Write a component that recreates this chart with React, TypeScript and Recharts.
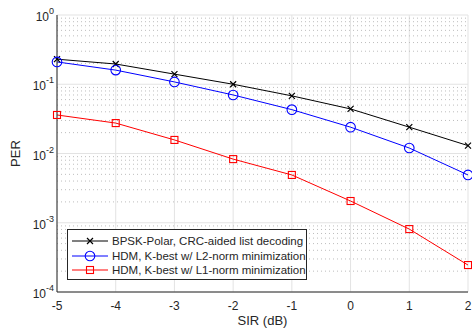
import React from 'react';
import { LineChart, Line, XAxis, YAxis, CartesianGrid, ReferenceLine } from 'recharts';

const sir = [-5, -4, -3, -2, -1, 0, 1, 2];
const perPolar = [0.23, 0.196, 0.14, 0.1, 0.068, 0.044, 0.024, 0.013];
const perL2 = [0.21, 0.16, 0.108, 0.07, 0.043, 0.024, 0.012, 0.0049];
const perL1 = [0.036, 0.0275, 0.0157, 0.0083, 0.0049, 0.00206, 0.00081, 0.000245];

const xTicks = [-5, -4, -3, -2, -1, 0, 1, 2];
const yExponents = [-4, -3, -2, -1, 0];
const yTicks = yExponents.map((e) => Math.pow(10, e));
const yMinor: number[] = [];
yExponents.slice(0, -1).forEach((e) => {
  for (let k = 2; k <= 9; k++) yMinor.push(k * Math.pow(10, e));
});

const legendNames = [
  'BPSK-Polar, CRC-aided list decoding',
  'HDM, K-best w/ L2-norm minimization',
  'HDM, K-best w/ L1-norm minimization',
];
const colors = ['#000000', '#0000ff', '#ff0000'];

const data = sir.map((s, i) => ({ sir: s, polar: perPolar[i], l2: perL2[i], l1: perL1[i] }));

const AXIS = '#262626';
const FONT = '"Liberation Sans", Arial, sans-serif';

const marker = (kind: string, cx: number, cy: number, color: string, key?: string) => {
  if (kind === 'x') {
    return (
      <path key={key} d={`M${cx - 3},${cy - 3}L${cx + 3},${cy + 3}M${cx - 3},${cy + 3}L${cx + 3},${cy - 3}`}
        stroke={color} strokeWidth={1.2} fill="none" />
    );
  }
  if (kind === 'o') {
    return <circle key={key} cx={cx} cy={cy} r={4.8} stroke={color} strokeWidth={1.1} fill="none" />;
  }
  return <rect key={key} x={cx - 3.5} y={cy - 3.5} width={7} height={7} stroke={color} strokeWidth={1.1} fill="none" />;
};
const kinds = ['x', 'o', 's'];

const dotFor = (kind: string, color: string) => (p: any) =>
  marker(kind, p.cx, p.cy, color, `${kind}-${p.index}`);

const YTick = (props: any) => {
  const { x, y, payload } = props;
  const e = Math.round(Math.log10(payload.value));
  return (
    <text x={x - 3} y={y + 6} textAnchor="end" fontSize={12} fill={AXIS}>
      10<tspan dy={-7} fontSize={9}>{e}</tspan>
    </text>
  );
};

const PerLabel = (props: any) => {
  const vb = props.viewBox || { y: 15, height: 277 };
  const cy = vb.y + vb.height / 2;
  return (
    <text x={15} y={cy} transform={`rotate(-90 15 ${cy})`} textAnchor="middle" dominantBaseline="central"
      fontSize={13} fill={AXIS}>
      PER
    </text>
  );
};

export default function App() {
  return (
    <div style={{ position: 'absolute', left: 0, top: 0, width: 472, height: 329, background: '#fff', fontFamily: FONT }}>
      <LineChart width={472} height={329} data={data} margin={{ top: 15, right: 4, bottom: 0, left: 0 }}>
        <CartesianGrid stroke="#e3e3e3" strokeWidth={1} />
        {yMinor.map((v) => (
          <ReferenceLine key={v} y={v} stroke="#bdbdbd" strokeDasharray="1 3" strokeWidth={1} />
        ))}
        {/* tick marks only, drawn inward */}
        <YAxis yAxisId="ylm" orientation="left" mirror width={0} scale="log" type="number" domain={[1e-4, 1]}
          ticks={yMinor} interval={0} tick={false} tickSize={3} tickLine={{ stroke: AXIS }} axisLine={false} allowDataOverflow />
        <YAxis yAxisId="yl" orientation="left" mirror width={0} scale="log" type="number" domain={[1e-4, 1]}
          ticks={yTicks} interval={0} tick={false} tickSize={5} tickLine={{ stroke: AXIS }} axisLine={false} allowDataOverflow />
        <YAxis yAxisId="yrm" orientation="right" mirror width={0} scale="log" type="number" domain={[1e-4, 1]}
          ticks={yMinor} interval={0} tick={false} tickSize={3} tickLine={{ stroke: AXIS }} axisLine={false} allowDataOverflow />
        <YAxis yAxisId="yr" orientation="right" mirror width={0} scale="log" type="number" domain={[1e-4, 1]}
          ticks={yTicks} interval={0} tick={false} tickSize={5} tickLine={{ stroke: AXIS }} axisLine={{ stroke: AXIS }} allowDataOverflow />
        <XAxis xAxisId="xb" orientation="bottom" mirror height={0} type="number" dataKey="sir" domain={[-5, 2]}
          ticks={xTicks} interval={0} tick={false} tickSize={5} tickLine={{ stroke: AXIS }} axisLine={false} allowDataOverflow />
        <XAxis xAxisId="xt" orientation="top" mirror height={0} type="number" dataKey="sir" domain={[-5, 2]}
          ticks={xTicks} interval={0} tick={false} tickSize={5} tickLine={{ stroke: AXIS }} axisLine={{ stroke: AXIS }} allowDataOverflow />
        {/* main axes with labels */}
        <XAxis type="number" dataKey="sir" domain={[-5, 2]} ticks={xTicks} interval={0} height={37}
          tickLine={false} tickSize={0} tickMargin={9} axisLine={{ stroke: AXIS }}
          tick={{ fill: AXIS, fontSize: 12 }}
          label={{ value: 'SIR (dB)', position: 'insideBottom', offset: 4, fill: AXIS, fontSize: 13 }} />
        <YAxis scale="log" type="number" domain={[1e-4, 1]} ticks={yTicks} interval={0} width={57}
          tickLine={false} tickSize={0} tickMargin={0} axisLine={{ stroke: AXIS }}
          tick={<YTick />} label={<PerLabel />} />
        <Line dataKey="polar" stroke={colors[0]} strokeWidth={1} dot={dotFor('x', colors[0])} isAnimationActive={false} />
        <Line dataKey="l2" stroke={colors[1]} strokeWidth={1} dot={dotFor('o', colors[1])} isAnimationActive={false} />
        <Line dataKey="l1" stroke={colors[2]} strokeWidth={1} dot={dotFor('s', colors[2])} isAnimationActive={false} />
      </LineChart>
      <div style={{ position: 'absolute', left: 67, top: 229, width: 240, height: 51, border: `1px solid ${AXIS}`,
        background: '#fff', boxSizing: 'border-box' }}>
        {legendNames.map((name, i) => (
          <div key={name} style={{ position: 'absolute', left: 0, top: 4 + i * 14.5, height: 14, display: 'flex', alignItems: 'center' }}>
            <svg width={44} height={14} style={{ display: 'block' }}>
              <line x1={4} x2={40} y1={7} y2={7} stroke={colors[i]} strokeWidth={1} />
              {marker(kinds[i], 22, 7, colors[i])}
            </svg>
            <span style={{ fontSize: 11.5, color: AXIS, whiteSpace: 'nowrap', lineHeight: '14px' }}>{name}</span>
          </div>
        ))}
      </div>
    </div>
  );
}
